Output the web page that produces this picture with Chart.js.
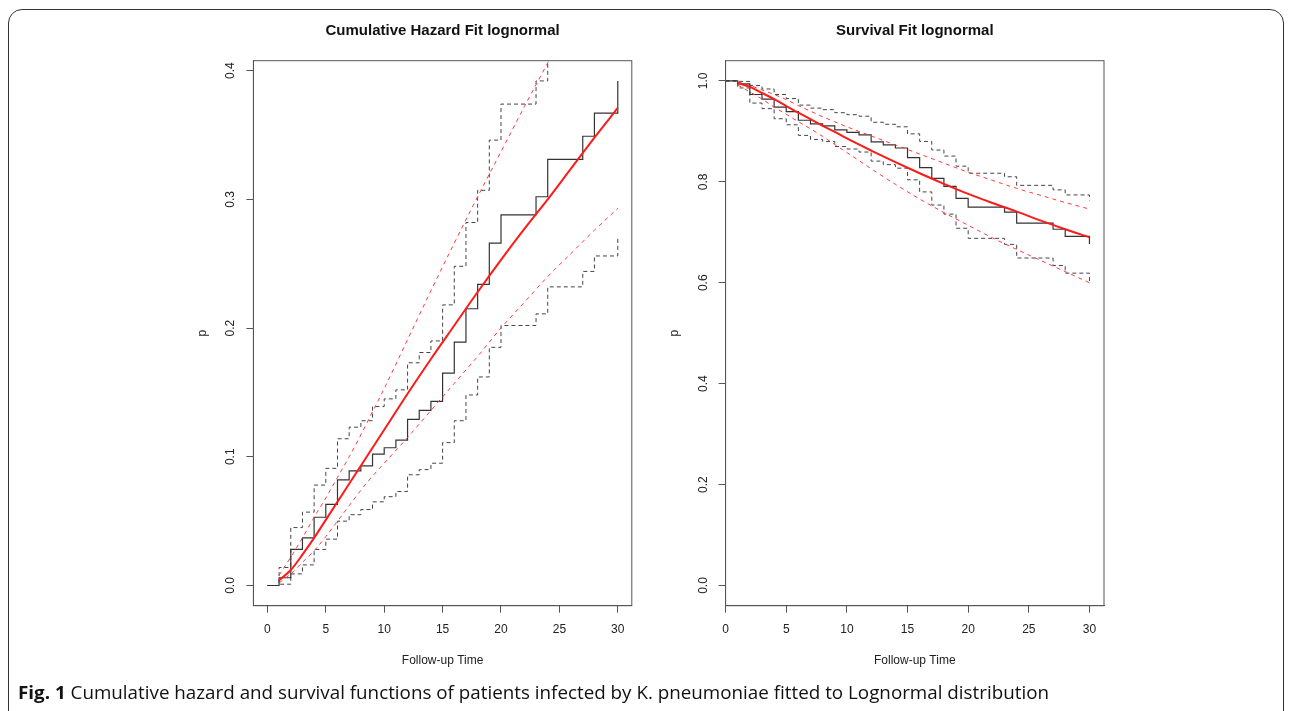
<!DOCTYPE html>
<html>
<head>
<meta charset="utf-8">
<script src="https://cdn.jsdelivr.net/npm/chart.js@4.4.1/dist/chart.umd.min.js"></script>
<style>
  html, body { margin: 0; padding: 0; background: #fff; }
  body { width: 1290px; height: 711px; position: relative; overflow: hidden; }
  #frame { position: absolute; left: 8px; top: 9px; width: 1276px; height: 760px;
           border: 1.5px solid #333; border-radius: 14px; box-sizing: border-box; }
  #leftPanel { position: absolute; left: 0; top: 0; }
  #rightPanel { position: absolute; left: 650px; top: 0; }
  #caption { position: absolute; left: 18px; top: 680px; font-family: "Open Sans", sans-serif;
             font-size: 18px; line-height: 24px; white-space: nowrap; color: #111;
             transform-origin: 0 0; }
  #caption b { font-weight: 700; }
</style>
</head>
<body>
<div id="frame"></div>
<canvas id="leftPanel" width="650" height="690"></canvas>
<canvas id="rightPanel" width="640" height="690"></canvas>
<div id="caption"><b>Fig. 1</b> Cumulative hazard and survival functions of patients infected by K. pneumoniae fitted to Lognormal distribution</div>
<script>
// event times of the step estimates
const eventTimes = [0, 1, 2, 3, 4, 5, 6, 7, 8, 9, 10, 11, 12, 13, 14, 15, 16, 17, 18, 19, 20, 23, 24, 27, 28, 30];

// nonparametric cumulative hazard with confidence band
const hazardKM    = [0, 0.006, 0.028, 0.037, 0.053, 0.063, 0.082, 0.089, 0.093, 0.102, 0.107, 0.113, 0.129, 0.136, 0.143, 0.165, 0.189, 0.215, 0.234, 0.266, 0.288, 0.302, 0.331, 0.349, 0.367, 0.392];
const hazardUpper = [0, 0.014, 0.045, 0.057, 0.078, 0.091, 0.114, 0.123, 0.128, 0.139, 0.145, 0.152, 0.173, 0.181, 0.190, 0.218, 0.248, 0.282, 0.307, 0.346, 0.374, 0.392, 0.433, 0.455, 0.480, 0.514];
const hazardLower = [0, 0.001, 0.009, 0.016, 0.028, 0.036, 0.050, 0.055, 0.059, 0.065, 0.069, 0.073, 0.086, 0.090, 0.095, 0.111, 0.128, 0.148, 0.162, 0.185, 0.202, 0.211, 0.232, 0.244, 0.256, 0.270];

// Kaplan-Meier survival with confidence band
const survKM    = [1, 0.994, 0.973, 0.964, 0.948, 0.939, 0.922, 0.915, 0.911, 0.903, 0.898, 0.893, 0.879, 0.873, 0.867, 0.848, 0.828, 0.807, 0.791, 0.767, 0.750, 0.740, 0.718, 0.706, 0.692, 0.677];
const survUpper = [1, 0.999, 0.991, 0.984, 0.973, 0.965, 0.952, 0.946, 0.943, 0.937, 0.933, 0.930, 0.918, 0.914, 0.909, 0.895, 0.880, 0.863, 0.851, 0.831, 0.817, 0.810, 0.793, 0.784, 0.774, 0.763];
const survLower = [1, 0.986, 0.956, 0.945, 0.925, 0.913, 0.892, 0.884, 0.880, 0.870, 0.865, 0.859, 0.841, 0.834, 0.827, 0.804, 0.780, 0.754, 0.736, 0.708, 0.688, 0.676, 0.649, 0.634, 0.619, 0.598];

// lognormal fit, read at these times
const fitTimes = [1, 2, 3, 4, 5, 6, 7, 8, 9, 10, 12, 14, 16, 18, 20, 22, 24, 26, 28, 30];
const hazardFit      = [0.004, 0.012, 0.024, 0.037, 0.051, 0.065, 0.079, 0.093, 0.107, 0.121, 0.149, 0.176, 0.202, 0.228, 0.253, 0.277, 0.300, 0.324, 0.348, 0.371];
const hazardFitUpper = [0.008, 0.022, 0.037, 0.053, 0.068, 0.084, 0.100, 0.117, 0.135, 0.153, 0.191, 0.229, 0.266, 0.302, 0.337, 0.372, 0.406, 0.440, 0.475, 0.510];
const hazardFitLower = [0.002, 0.009, 0.018, 0.027, 0.038, 0.050, 0.062, 0.074, 0.085, 0.095, 0.115, 0.136, 0.157, 0.178, 0.200, 0.220, 0.240, 0.258, 0.276, 0.293];
const survFit      = [0.996, 0.988, 0.976, 0.964, 0.950, 0.937, 0.924, 0.911, 0.899, 0.886, 0.862, 0.839, 0.817, 0.796, 0.776, 0.758, 0.741, 0.723, 0.706, 0.690];
const survFitUpper = [0.998, 0.991, 0.982, 0.973, 0.963, 0.951, 0.940, 0.929, 0.919, 0.909, 0.891, 0.873, 0.855, 0.837, 0.819, 0.803, 0.787, 0.773, 0.759, 0.746];
const survFitLower = [0.992, 0.978, 0.964, 0.948, 0.934, 0.919, 0.905, 0.890, 0.874, 0.858, 0.826, 0.795, 0.766, 0.739, 0.714, 0.689, 0.666, 0.644, 0.622, 0.600];

const timeTicks = [0, 5, 10, 15, 20, 25, 30];
const hazardTicks = [0, 0.1, 0.2, 0.3, 0.4];
const survTicks = [0, 0.2, 0.4, 0.6, 0.8, 1.0];

const FONT = '"Liberation Sans", Arial, Helvetica, sans-serif';
const AXIS_COLOR = '#555';
const TEXT_COLOR = '#222';

function points(xs, ys) {
  return xs.map((x, i) => ({ x: x, y: ys[i] }));
}

// R-style box round the plot region and the title centred over it
const panelFrame = {
  id: 'panelFrame',
  afterDraw(chart, args, opts) {
    const { ctx, chartArea: a } = chart;
    ctx.save();
    ctx.strokeStyle = AXIS_COLOR;
    ctx.lineWidth = 1;
    ctx.strokeRect(a.left, a.top, a.right - a.left, a.bottom - a.top);
    ctx.font = 'bold 15px ' + FONT;
    ctx.fillStyle = '#111';
    ctx.textAlign = 'center';
    ctx.textBaseline = 'middle';
    ctx.fillText(opts.title, (a.left + a.right) / 2, 31);
    ctx.restore();
  }
};

function stepSet(data, dashed) {
  return {
    data: data,
    stepped: true,
    borderColor: dashed ? '#444' : '#333',
    borderWidth: dashed ? 1 : 1.2,
    borderDash: dashed ? [4, 3] : [],
    pointRadius: 0,
    fill: false,
    order: dashed ? 3 : 2
  };
}

function fitSet(data, dashed) {
  return {
    data: data,
    borderColor: dashed ? '#ff3b3b' : '#ff1a1a',
    borderWidth: dashed ? 1 : 2,
    borderDash: dashed ? [4, 4] : [],
    pointRadius: 0,
    fill: false,
    cubicInterpolationMode: 'monotone',
    order: dashed ? 1 : 0
  };
}

function timeAxis(min) {
  return {
    type: 'linear',
    min: min,
    max: 31.2,
    afterBuildTicks: axis => { axis.ticks = timeTicks.map(v => ({ value: v })); },
    afterFit: axis => { axis.height = 70; },
    grid: { drawOnChartArea: false, tickLength: 7, color: AXIS_COLOR },
    border: { color: AXIS_COLOR },
    ticks: { color: TEXT_COLOR, font: { family: FONT, size: 12 }, padding: 10, maxRotation: 0, autoSkip: false },
    title: { display: true, text: 'Follow-up Time', color: TEXT_COLOR, font: { family: FONT, size: 12 }, padding: { top: 0, bottom: 8 } }
  };
}

function valueAxis(min, max, ticks) {
  return {
    type: 'linear',
    min: min,
    max: max,
    afterBuildTicks: axis => { axis.ticks = ticks.map(v => ({ value: v })); },
    afterFit: axis => { axis.width = 60; },
    grid: { drawOnChartArea: false, tickLength: 7, color: AXIS_COLOR },
    border: { color: AXIS_COLOR },
    ticks: {
      color: TEXT_COLOR, font: { family: FONT, size: 12 }, padding: 7,
      minRotation: 90, maxRotation: 90, crossAlign: 'center', autoSkip: false,
      callback: v => v.toFixed(1)
    },
    title: { display: true, text: 'p', color: TEXT_COLOR, font: { family: FONT, size: 12 }, padding: { top: 2, bottom: 0 } }
  };
}

function makePanel(id, title, datasets, xMin, yMin, yMax, yTicks, padLeft, padRight) {
  return new Chart(document.getElementById(id), {
    type: 'line',
    data: { datasets: datasets },
    options: {
      responsive: false,
      animation: false,
      events: [],
      layout: { padding: { left: padLeft, right: padRight, top: 60.7, bottom: 14.3 } },
      plugins: {
        legend: { display: false },
        tooltip: { enabled: false },
        panelFrame: { title: title }
      },
      scales: {
        x: timeAxis(xMin),
        y: valueAxis(yMin, yMax, yTicks)
      }
    },
    plugins: [panelFrame]
  });
}

makePanel('leftPanel', 'Cumulative Hazard Fit lognormal', [
  stepSet(points(eventTimes, hazardKM), false),
  stepSet(points(eventTimes, hazardUpper), true),
  stepSet(points(eventTimes, hazardLower), true),
  fitSet(points(fitTimes, hazardFit), false),
  fitSet(points(fitTimes, hazardFitUpper), true),
  fitSet(points(fitTimes, hazardFitLower), true)
], -1.2, -0.0157, 0.4077, hazardTicks, 193.4, 18.2);

makePanel('rightPanel', 'Survival Fit lognormal', [
  stepSet(points(eventTimes, survKM), false),
  stepSet(points(eventTimes, survUpper), true),
  stepSet(points(eventTimes, survLower), true),
  fitSet(points(fitTimes, survFit), false),
  fitSet(points(fitTimes, survFitUpper), true),
  fitSet(points(fitTimes, survFitLower), true)
], 0, -0.04, 1.04, survTicks, 15.6, 186);

// the caption font is condensed; squeeze the text to the original width
const cap = document.getElementById('caption');
const capWidth = cap.getBoundingClientRect().width;
cap.style.transform = 'scaleX(' + (1031 / capWidth) + ')';
</script>
</body>
</html>
